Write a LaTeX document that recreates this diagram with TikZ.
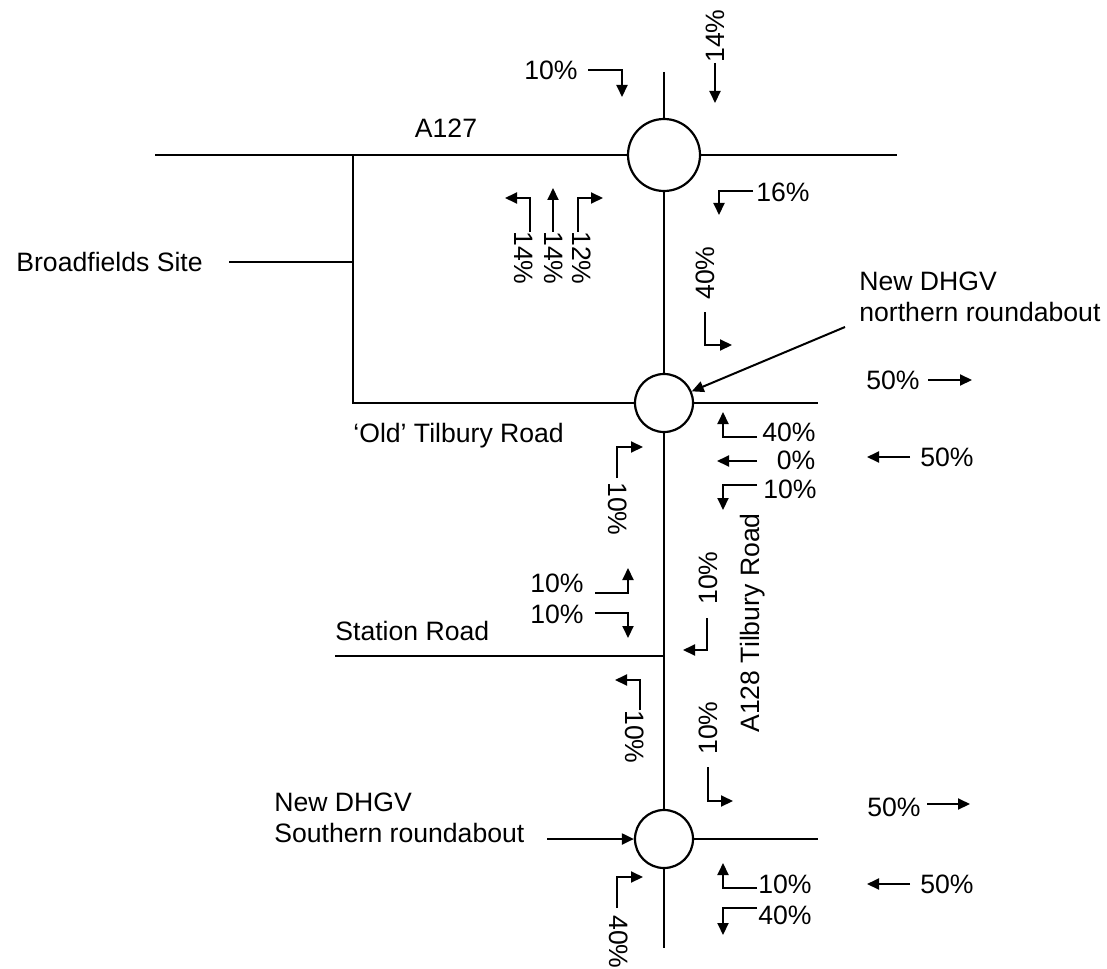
\documentclass[tikz,border=0pt]{standalone}
\usepackage{fontspec}
\setmainfont{Liberation Sans}
\usetikzlibrary{arrows.meta}

\tikzset{
  road/.style={line width=1.2pt},
  flow/.style={line width=1pt,-{Triangle[length=6pt,width=5.5pt]}},
  rbt/.style={draw,circle,fill=white,line width=1.1pt,inner sep=0pt},
  lbl/.style={inner sep=1pt,font=\fontsize{13.3}{15.5}\selectfont},
}

\begin{document}
\begin{tikzpicture}[x=0.5pt,y=-0.5pt]
\useasboundingbox (0,0) rectangle (1107,968);

% roundabouts
\node[rbt,minimum size=36pt] (rTop) at (664,155) {};
\node[rbt,minimum size=29pt] (rNorth) at (664,403) {};
\node[rbt,minimum size=29pt] (rSouth) at (664,839) {};

% roads
\draw[road] (664,72) -- (rTop.north);
\draw[road] (rTop.south) -- (rNorth.north);
\draw[road] (rNorth.south) -- (rSouth.north);
\draw[road] (rSouth.south) -- (664,948);
\draw[road] (155,155) -- (rTop.west);
\draw[road] (rTop.east) -- (897,155);
\draw[road] (353,155) -- (353,403) -- (rNorth.west);
\draw[road] (rNorth.east) -- (818,403);
\draw[road] (335,656) -- (664,656);
\draw[road] (rSouth.east) -- (818,839);
\draw[line width=1pt] (229,262) -- (353,262);

% road names
\node[lbl] (lA127) at (446,128) {A127};
\node[lbl,anchor=west] (lBroad) at (14,262) {Broadfields Site};
\node[lbl,anchor=west] (lOld) at (351,436) {`Old' Tilbury Road};
\node[lbl,anchor=west] (lStation) at (333,631) {Station Road};
\node[lbl,rotate=90] (lA128) at (753,623) {A128 Tilbury Road};
\node[lbl,anchor=north west,align=left] (lNorth) at (857,270) {New DHGV\\northern roundabout};
\node[lbl,anchor=north west,align=left] (lSouth) at (272,791) {New DHGV\\Southern roundabout};
\coordinate (pN) at (845,327);
\coordinate (pS) at (547,839);
\draw[flow] (pN) -- (rNorth);
\draw[flow] (pS) -- (rSouth);

% A127 roundabout
\node[lbl] (q1) at (551,70) {10\%};
\draw[flow] (588,70) -- (622,70) -- (622,97);
\node[lbl,rotate=90] (q2) at (715,36) {14\%};
\draw[flow] (715,63) -- (715,103);
\node[lbl] (q3) at (783,192) {16\%};
\draw[flow] (753,191) -- (719,191) -- (719,215);
\node[lbl,rotate=-90] (q4) at (524,258) {14\%};
\draw[flow] (530,232) -- (530,198) -- (505,198);
\node[lbl,rotate=-90] (q5) at (554,258) {14\%};
\draw[flow] (553,232) -- (553,188);
\node[lbl,rotate=-90] (q6) at (582,258) {12\%};
\draw[flow] (578,232) -- (578,198) -- (603,198);

% northern roundabout
\node[lbl,rotate=90] (q7) at (705,273) {40\%};
\draw[flow] (705,312) -- (705,345) -- (732,345);
\node[lbl] (q8) at (893,380) {50\%};
\draw[flow] (928,380) -- (972,380);
\node[lbl] (q9) at (789,432) {40\%};
\draw[flow] (757,437) -- (723,437) -- (723,412);
\node[lbl] (q10) at (796,460) {0\%};
\draw[flow] (757,461) -- (717,461);
\node[lbl] (q11) at (790,489) {10\%};
\draw[flow] (757,485) -- (723,485) -- (723,510);
\node[lbl] (q12) at (947,457) {50\%};
\draw[flow] (910,457) -- (867,457);
\node[lbl,rotate=-90] (q13) at (618,509) {10\%};
\draw[flow] (617,478) -- (617,447) -- (643,447);

% Station Road
\node[lbl] (q14) at (557,583) {10\%};
\draw[flow] (595,593) -- (628,593) -- (628,568);
\node[lbl] (q15) at (557,614) {10\%};
\draw[flow] (595,613) -- (628,613) -- (628,638);
\node[lbl,rotate=90] (q16) at (708,578) {10\%};
\draw[flow] (707,618) -- (707,650) -- (683,650);
\node[lbl,rotate=-90] (q17) at (635,737) {10\%};
\draw[flow] (640,710) -- (640,680) -- (615,680);
\node[lbl,rotate=90] (q18) at (708,728) {10\%};
\draw[flow] (708,767) -- (708,801) -- (733,801);

% southern roundabout
\node[lbl] (q19) at (894,807) {50\%};
\draw[flow] (927,804) -- (970,804);
\node[lbl] (q20) at (947,884) {50\%};
\draw[flow] (910,884) -- (867,884);
\node[lbl] (q21) at (785,884) {10\%};
\draw[flow] (757,888) -- (723,888) -- (723,863);
\node[lbl] (q22) at (785,915) {40\%};
\draw[flow] (757,908) -- (723,908) -- (723,935);
\node[lbl,rotate=-90] (q23) at (619,942) {40\%};
\draw[flow] (617,908) -- (617,877) -- (643,877);
\end{tikzpicture}
\end{document}
